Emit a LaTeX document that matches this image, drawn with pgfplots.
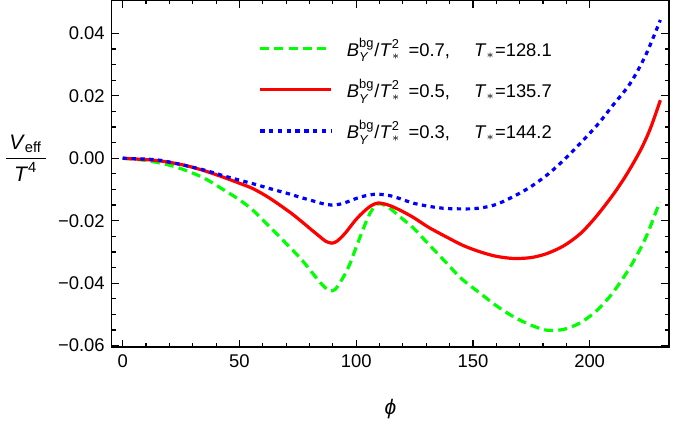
\documentclass[border=0pt]{standalone}
\usepackage{pgfplots}
\pgfplotsset{compat=1.18}
\usepackage{amsmath}
\usepackage{fontspec}
\setmainfont{Liberation Sans}
\usetikzlibrary{calc}
\newcommand{\lab}[2]{\hspace{5pt}\textit{B}$^{\text{bg}}_{\text{\textit{Y}}}$/\textit{T}$^{\text{2}}_{\ast}$\hspace{4pt}=#1,\hspace{12pt}\textit{T}$_{\ast}$=#2}
\begin{document}
\begin{tikzpicture}
\begin{axis}[
  scale only axis,
  width=278.5pt, height=173.5pt,
  xmin=-4.7, xmax=234, ymin=-0.0605, ymax=0.0507,
  axis line style={line width=0.7pt, black},
  tick align=inside,
  xtick={0,50,100,150,200},
  minor x tick num=4,
  ytick={-0.06,-0.04,-0.02,0,0.02,0.04},
  yticklabels={−0.06,−0.04,−0.02,0.00,0.02,0.04},
  minor y tick num=3,
  major tick length=3.8pt,
  minor tick length=2pt,
  every tick/.style={black, line width=0.6pt},
  tick label style={font=\fontsize{9.2}{11}\selectfont},
  /pgf/number format/assume math mode=true,
  xlabel={\textit{ϕ}},
  xlabel style={at={(rel axis cs:0.5,0)}, anchor=center, yshift=-31pt, font=\fontsize{10.5}{12}\selectfont},
  ylabel={$\dfrac{\,\text{\textit{V}}_{\text{eff}}\,}{\text{\textit{T}}^{\text{4}}}$},
  ylabel style={rotate=-90, at={(rel axis cs:0,0.544)}, anchor=center, xshift=-43pt, font=\fontsize{10.5}{12}\selectfont},
  legend cell align=left,
  legend style={draw=none, fill=none, at={(rel axis cs:0.252,0.915)}, anchor=north west,
    font=\fontsize{9.2}{11}\selectfont, row sep=6pt},
  legend image code/.code={\draw[#1] (0pt,0pt) -- (35.5pt,0pt);},
]
\addplot[color={rgb,1:red,0;green,1;blue,0}, line width=1.6pt, dash pattern=on 4.5pt off 2.6pt, smooth] coordinates {
(0,0) (10,-0.0007) (20,-0.0022) (27.4,-0.0040) (35,-0.0064) (41.7,-0.0094) (50,-0.0133) (56,-0.0168) (63,-0.0220) (72,-0.0288) (77,-0.0328) (81,-0.0365) (84.6,-0.0398) (87,-0.0416) (89,-0.0425) (91,-0.0420) (93.1,-0.0398) (95.3,-0.0370) (97.4,-0.0337) (99.5,-0.0295) (101.7,-0.0252) (104,-0.0208) (106,-0.0175) (108,-0.0153) (109.8,-0.0145) (112,-0.0150) (114.6,-0.0161) (120,-0.0195) (124.6,-0.0224) (130,-0.0267) (138.9,-0.0337) (145,-0.0385) (153.2,-0.0433) (160,-0.0472) (167.5,-0.0508) (175,-0.0535) (181.8,-0.0551) (189,-0.0548) (196,-0.0527) (203.2,-0.0487) (210,-0.0430) (217.4,-0.0348) (224,-0.0255) (230,-0.0140)
};
\addlegendentry{\lab{0.7}{128.1}}
\addplot[color={rgb,1:red,1;green,0;blue,0}, line width=1.6pt, smooth] coordinates {
(0,0) (13,-0.0006) (20,-0.0013) (27.4,-0.0024) (35,-0.0040) (41.7,-0.0057) (50,-0.0080) (56,-0.0098) (63,-0.0128) (72,-0.0175) (77,-0.0205) (81,-0.0230) (84.6,-0.0252) (87,-0.0266) (89.6,-0.0272) (91.5,-0.0267) (93.1,-0.0257) (95.3,-0.0240) (97.4,-0.0220) (99.5,-0.0200) (101.7,-0.0182) (104,-0.0166) (106,-0.0154) (108,-0.0146) (109.6,-0.0143) (112,-0.0146) (114.6,-0.0152) (119,-0.0167) (124.6,-0.0190) (131,-0.0221) (138.9,-0.0253) (146,-0.0280) (153.2,-0.0300) (160,-0.0314) (167.5,-0.0321) (175,-0.0318) (181.8,-0.0305) (189,-0.0280) (196.1,-0.0241) (203,-0.0185) (210.4,-0.0113) (216,-0.0050) (221.8,0.0026) (226,0.0095) (230.3,0.0186)
};
\addlegendentry{\lab{0.5}{135.7}}
\addplot[color={rgb,1:red,0;green,0;blue,1}, line width=1.6pt, dash pattern=on 2.2pt off 2.2pt, smooth] coordinates {
(0,0) (13,-0.0004) (20,-0.0012) (34.5,-0.0037) (45,-0.0060) (56,-0.0082) (63,-0.0097) (71.7,-0.0115) (76,-0.0125) (81.7,-0.0137) (86,-0.0146) (89.6,-0.0150) (93,-0.0147) (96.5,-0.0139) (100.3,-0.0128) (104,-0.0120) (108.9,-0.0115) (114.6,-0.0120) (119,-0.0130) (124.6,-0.0144) (132,-0.0155) (138.9,-0.0161) (148.9,-0.0162) (155,-0.0157) (160.3,-0.0147) (167,-0.0124) (174.6,-0.0092) (182,-0.0052) (188.9,-0.0006) (196,0.0048) (203.2,0.0106) (210,0.0170) (217.4,0.0240) (224,0.0330) (230.3,0.0443)
};
\addlegendentry{\lab{0.3}{144.2}}
\end{axis}
\pgfresetboundingbox
\path[use as bounding box] ($(current axis.south west)+(-55.85pt,-39pt)$) rectangle ($(current axis.north east)+(3pt,0pt)$);
\end{tikzpicture}
\end{document}
